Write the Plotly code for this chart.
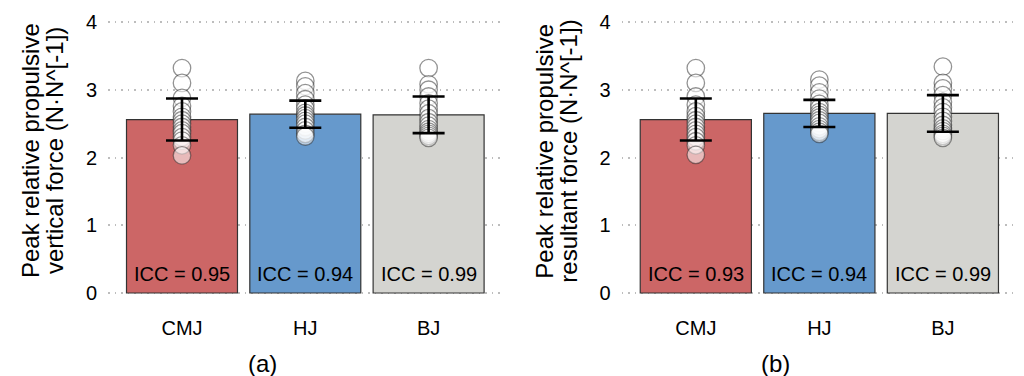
import plotly.graph_objects as go

# --- data -----------------------------------------------------------------
categories = ["CMJ", "HJ", "BJ"]
bar_colors = ["#CC6666", "#6699CC", "#D4D4D0"]

# (a) peak relative propulsive vertical force
vert_mean = [2.56, 2.64, 2.63]
vert_sd = [0.31, 0.20, 0.27]
vert_icc = [0.95, 0.94, 0.99]
vert_cmj = [3.32, 3.10, 2.88, 2.76, 2.68, 2.60, 2.55, 2.50, 2.45, 2.40, 2.36, 2.30, 2.25, 2.18, 2.03]
vert_hj = [3.13, 3.05, 2.95, 2.86, 2.78, 2.72, 2.66, 2.62, 2.58, 2.54, 2.50, 2.45, 2.40, 2.35, 2.31]
vert_bj = [3.32, 3.08, 3.00, 2.90, 2.80, 2.72, 2.65, 2.58, 2.52, 2.47, 2.42, 2.38, 2.35, 2.32, 2.29]

# (b) peak relative propulsive resultant force
res_mean = [2.56, 2.65, 2.65]
res_sd = [0.31, 0.20, 0.27]
res_icc = [0.93, 0.94, 0.99]
res_cmj = [3.32, 3.10, 2.90, 2.78, 2.68, 2.61, 2.55, 2.50, 2.45, 2.40, 2.35, 2.30, 2.24, 2.18, 2.04]
res_hj = [3.15, 3.06, 2.96, 2.87, 2.79, 2.73, 2.67, 2.63, 2.59, 2.55, 2.51, 2.46, 2.42, 2.38, 2.35]
res_bj = [3.34, 3.10, 3.02, 2.92, 2.82, 2.74, 2.67, 2.60, 2.54, 2.48, 2.43, 2.39, 2.35, 2.32, 2.29]

y_ticks = [0, 1, 2, 3, 4]
title_a = ["Peak relative propulsive", "vertical force (N·N^[-1])"]
title_b = ["Peak relative propulsive", "resultant force (N·N^[-1])"]
captions = ["(a)", "(b)"]

# --- layout constants ------------------------------------------------------
W, H = 1024, 376
FONT = "Arial, 'Liberation Sans', Helvetica, sans-serif"
x_domains = [[108 / W, 502.6 / W], [621.7 / W, 1017 / W]]
y_domain = [79.6 / H, 357.4 / H]

fig = go.Figure()

panels = [
    (vert_mean, vert_sd, vert_icc, [vert_cmj, vert_hj, vert_bj], title_a),
    (res_mean, res_sd, res_icc, [res_cmj, res_hj, res_bj], title_b),
]

for p, (means, sds, iccs, pts, ttl) in enumerate(panels):
    xa = "x" if p == 0 else "x2"
    ya = "y" if p == 0 else "y2"
    xs = list(range(len(categories)))

    fig.add_trace(go.Bar(
        x=xs, y=means, width=0.9, xaxis=xa, yaxis=ya,
        marker=dict(color=bar_colors, line=dict(color="#333333", width=1.2)),
        showlegend=False, hoverinfo="skip",
    ))

    for i, vals in enumerate(pts):
        fig.add_trace(go.Scatter(
            x=[i] * len(vals), y=vals, mode="markers", xaxis=xa, yaxis=ya,
            marker=dict(size=17.5, color="rgba(255,255,255,0.55)",
                        line=dict(color="rgba(40,40,40,0.5)", width=1.3)),
            showlegend=False, hoverinfo="skip",
        ))

    fig.add_trace(go.Scatter(
        x=xs, y=means, mode="markers", xaxis=xa, yaxis=ya,
        marker=dict(size=1, color="rgba(0,0,0,0)"),
        error_y=dict(type="data", array=sds, visible=True,
                     color="black", thickness=2.6, width=16),
        showlegend=False, hoverinfo="skip",
    ))

    for i, icc in enumerate(iccs):
        fig.add_annotation(
            x=i, y=0.28, xref=xa, yref=ya, text=f"ICC = {icc:.2f}",
            showarrow=False, font=dict(size=20, color="black", family=FONT),
            xanchor="center", yanchor="middle",
        )

    x0 = 108 if p == 0 else 621.7
    for j, line in enumerate(ttl):
        fig.add_annotation(
            x=(x0 - 78 + 24 * j) / W, y=1 - 151 / H, xref="paper", yref="paper",
            text=line, textangle=-90, showarrow=False,
            font=dict(size=24, color="black", family=FONT),
            xanchor="center", yanchor="middle",
        )

    fig.add_annotation(
        x=(262 if p == 0 else 775) / W, y=1 - 363 / H, xref="paper", yref="paper",
        text=captions[p], showarrow=False,
        font=dict(size=24, color="black", family=FONT),
        xanchor="center", yanchor="middle",
    )

axis_x = dict(
    range=[-0.6, 2.6], tickvals=list(range(len(categories))), ticktext=categories,
    showgrid=False, zeroline=False, showline=False, ticks="", automargin=False,
    tickfont=dict(size=20, color="black", family=FONT), ticklabelstandoff=18,
)
axis_y = dict(
    range=[-0.05, 4.05], tickvals=y_ticks, domain=y_domain, automargin=False,
    showgrid=True, gridcolor="#bdbdbd", gridwidth=1.5, griddash="1.5px,5px",
    zeroline=False, showline=False, ticks="",
    tickfont=dict(size=20, color="black", family=FONT), ticklabelstandoff=10,
)

fig.update_layout(
    width=W, height=H,
    margin=dict(l=0, r=0, t=0, b=0, pad=0, autoexpand=False),
    paper_bgcolor="white", plot_bgcolor="white",
    xaxis=dict(domain=x_domains[0], anchor="y", **axis_x),
    yaxis=dict(anchor="x", **axis_y),
    xaxis2=dict(domain=x_domains[1], anchor="y2", **axis_x),
    yaxis2=dict(anchor="x2", **axis_y),
    barmode="overlay",
    font=dict(family=FONT),
)

fig.write_html("out.html")
